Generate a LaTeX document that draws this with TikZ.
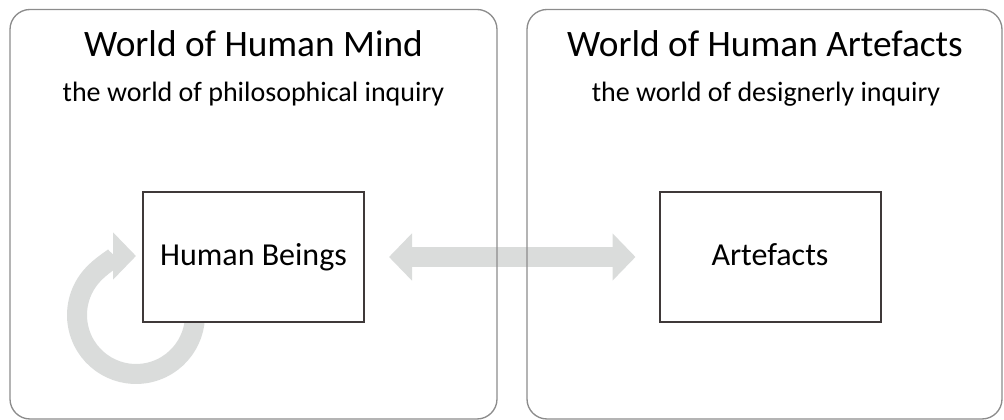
\documentclass[tikz,border=0pt]{standalone}
\usepackage{fontspec}
\setmainfont{Carlito}
\usetikzlibrary{arrows.meta,backgrounds}
\definecolor{panelgray}{HTML}{8C8C8C}
\definecolor{boxline}{HTML}{3F3939}
\definecolor{arrowgray}{HTML}{DADCDB}
\begin{document}
\begin{tikzpicture}[x=0.75pt,y=0.75pt,
  panel/.style={draw=panelgray,line width=1pt,rounded corners=15pt},
  thing/.style={draw=boxline,line width=1.5pt,fill=white,minimum width=165.75pt,
    minimum height=97.5pt,text height=1.45em,text depth=0.2em,font=\fontsize{24}{28}\selectfont},
  title/.style={anchor=base,font=\fontsize{28}{34}\selectfont},
  subtitle/.style={anchor=base,font=\fontsize{21}{25}\selectfont},
  fat/.style={arrowgray,line width=15pt},
  tip/.tip={Triangle[length=17.25pt,width=34.5pt]}]
  \useasboundingbox (0,0) rectangle (1004,420);
  % Rammer
  \draw[panel] (10,1) rectangle (497,410.5);
  \draw[panel] (527,1) rectangle (1002,410.5);
  % Overskrifter
  \node[title] (mindtitle) at (253.5,363) {World of Human Mind};
  \node[subtitle] (mindsub) at (253.5,318) {the world of philosophical inquiry};
  \node[title] (arttitle) at (765,363) {World of Human Artefacts};
  \node[subtitle] (artsub) at (766,318) {the world of designerly inquiry};
  % Bokser
  \node[thing] (beings) at (253.5,163) {Human Beings};
  \node[thing] (artefacts) at (770,163) {Artefacts};
  \coordinate (loop) at (136,105);
  % Piler bak boksene
  \begin{scope}[on background layer]
    \draw[fat,tip-tip] ([xshift=18pt]beings.east) -- ([xshift=-17.25pt]artefacts.west);
    \draw[fat,-tip] (loop) ++(20:44.25pt) arc[start angle=20,end angle=-270,radius=44.25pt];
  \end{scope}
\end{tikzpicture}
\end{document}
